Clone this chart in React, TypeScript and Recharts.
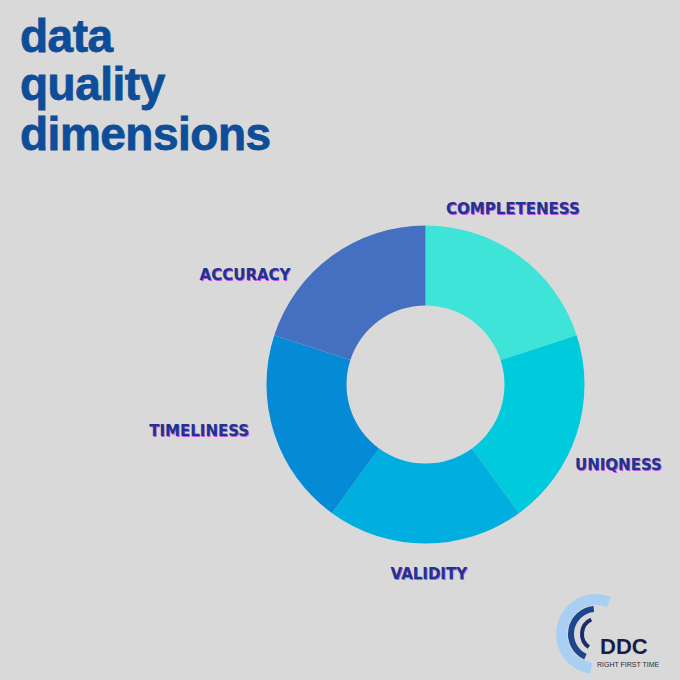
import React from "react";
import { PieChart, Pie, Cell } from "recharts";

const categories = ["COMPLETENESS", "UNIQNESS", "VALIDITY", "TIMELINESS", "ACCURACY"];
const values = [1, 1, 1, 1, 1];
const sliceColors = ["#3de4d7", "#00cbdd", "#00aee0", "#058bd6", "#456fc1"];
const titleLines = ["data", "quality", "dimensions"];

// label placement relative to each slice (polar offsets from the pie centre)
const labelAngleOffsets = [9.5, -4.6, 1, -6.4, 22.8];
const labelRadiusOffsets = [37, 50, 31, 72, 52];

const data = categories.map((name, i) => ({ name, value: values[i] }));

const RAD = Math.PI / 180;

function annulus(cx: number, cy: number, r0: number, r1: number, a0: number, a1: number) {
  const p = (r: number, a: number) => [cx + r * Math.cos(a * RAD), cy - r * Math.sin(a * RAD)];
  const large = Math.abs(a1 - a0) > 180 ? 1 : 0;
  const [x0, y0] = p(r1, a0);
  const [x1, y1] = p(r1, a1);
  const [x2, y2] = p(r0, a1);
  const [x3, y3] = p(r0, a0);
  return `M${x0},${y0} A${r1},${r1} 0 ${large} 0 ${x1},${y1} L${x2},${y2} A${r0},${r0} 0 ${large} 1 ${x3},${y3} Z`;
}

const renderLabel = (props: any) => {
  const { cx, cy, midAngle, outerRadius, index } = props;
  const a = (midAngle + labelAngleOffsets[index]) * RAD;
  const r = outerRadius + labelRadiusOffsets[index];
  const x = cx + r * Math.cos(a);
  const y = cy - r * Math.sin(a);
  const style = {
    fontFamily: "'DejaVu Sans', sans-serif",
    fontWeight: 900,
    fontSize: 15,
  } as React.CSSProperties;
  return (
    <g key={`lbl-${index}`}>
      <text x={x + 0.8} y={y + 0.8} textAnchor="middle" dominantBaseline="central" fill="#c050f0" style={style}>
        {categories[index]}
      </text>
      <text x={x} y={y} textAnchor="middle" dominantBaseline="central" fill="#1c3688" style={style}>
        {categories[index]}
      </text>
    </g>
  );
};

export default function App() {
  return (
    <div
      style={{
        position: "absolute",
        left: 0,
        top: 0,
        width: 680,
        height: 680,
        background: "#d9d9d9",
        overflow: "hidden",
      }}
    >
      <PieChart width={680} height={680} margin={{ top: 0, right: 0, bottom: 0, left: 0 }}>
        <Pie
          data={data}
          dataKey="value"
          nameKey="name"
          cx={425.5}
          cy={384.5}
          innerRadius={79}
          outerRadius={159}
          startAngle={90}
          endAngle={-270}
          stroke="none"
          labelLine={false}
          label={renderLabel}
          isAnimationActive={false}
        >
          {data.map((d, i) => (
            <Cell key={d.name} fill={sliceColors[i]} />
          ))}
        </Pie>
      </PieChart>
      <svg width={680} height={680} style={{ position: "absolute", left: 0, top: 0, pointerEvents: "none" }}>
        {titleLines.map((t, i) => (
          <text
            key={t}
            x={20}
            y={[52, 100, 150][i]}
            fill="#0e4d97"
            stroke="#0e4d97"
            strokeWidth={0.8}
            style={{ fontFamily: "'Liberation Sans', Arial, sans-serif", fontWeight: 700, fontSize: 46, letterSpacing: -0.5 }}
          >
            {t}
          </text>
        ))}
        <g>
          <path d={annulus(596, 634, 29, 40, 68, 262)} fill="#a9d0f2" />
          <path d={annulus(596, 634, 22, 28, 95, 245)} fill="#1c4790" />
          <path d={annulus(598, 634, 14, 18, 115, 235)} fill="#1a2d6e" />
          <text
            x={600}
            y={654}
            fill="#1b1d45"
            style={{ fontFamily: "'Liberation Sans', Arial, sans-serif", fontWeight: 700, fontSize: 22 }}
          >
            DDC
          </text>
          <text
            x={597}
            y={667}
            fill="#2a2a3a"
            style={{ fontFamily: "'Liberation Sans', Arial, sans-serif", fontSize: 7 }}
          >
            RIGHT FIRST TIME
          </text>
        </g>
      </svg>
    </div>
  );
}
